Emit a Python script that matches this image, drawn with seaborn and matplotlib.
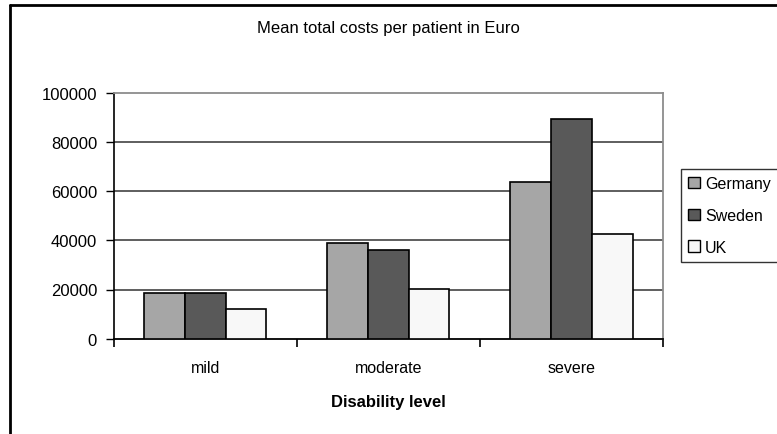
import matplotlib
matplotlib.use("Agg")
import matplotlib.pyplot as plt
import seaborn as sns
import pandas as pd
from matplotlib.lines import Line2D
from matplotlib.patches import Patch

categories = ["mild", "moderate", "severe"]
countries = ["Germany", "Sweden", "UK"]
germany = [18500, 38900, 63700]
sweden = [18500, 36200, 89400]
uk = [12000, 20300, 42700]
colors = ["#a6a6a6", "#595959", "#f8f8f8"]

rows = []
for c, vals in zip(countries, [germany, sweden, uk]):
    for cat, v in zip(categories, vals):
        rows.append({"level": cat, "country": c, "cost": v})
df = pd.DataFrame(rows)

sns.set_theme(style="white")
plt.rcParams["font.family"] = ["Liberation Sans", "DejaVu Sans"]
plt.rcParams["text.color"] = "black"
plt.rcParams["axes.labelcolor"] = "black"
plt.rcParams["xtick.color"] = "black"
plt.rcParams["ytick.color"] = "black"

W, H = 777, 435
fig = plt.figure(figsize=(W / 100, H / 100), dpi=100)
ax = fig.add_axes([113.7 / W, 1 - 339.7 / H, (663 - 113.7) / W, (339.7 - 93.7) / H])

sns.barplot(data=df, x="level", y="cost", hue="country", order=categories,
            hue_order=countries, palette=colors, width=0.667, gap=0,
            edgecolor="black", linewidth=1.2, saturation=1, ax=ax, legend=False,
            zorder=3)

ax.set_ylim(0, 100000)
ax.set_xlim(-0.5, 2.5)
ax.set_yticks([0, 20000, 40000, 60000, 80000, 100000])
ax.set_yticklabels(["0", "20000", "40000", "60000", "80000", "100000"], fontsize=12)
ax.set_xticks([0, 1, 2])
ax.set_xticklabels(categories, fontsize=11.5)
ax.set_xticks([-0.5, 0.5, 1.5, 2.5], minor=True)
ax.tick_params(axis="x", which="major", length=0, pad=15)
ax.tick_params(axis="x", which="minor", length=6, width=1.2, color="black", direction="out", bottom=True)
ax.tick_params(axis="y", which="major", length=6, width=1, color="black", direction="out", left=True, pad=6)
ax.set_xlabel("Disability level", fontsize=12, fontweight="bold", labelpad=14)
ax.set_ylabel("")

for y in [20000, 40000, 60000, 80000]:
    ax.axhline(y, color="#333333", linewidth=1.1, zorder=1)

for side in ["top", "right"]:
    ax.spines[side].set_visible(True)
    ax.spines[side].set_color("#8c8c8c")
    ax.spines[side].set_linewidth(1.3)
ax.spines["left"].set_color("black")
ax.spines["left"].set_linewidth(1.2)
ax.spines["bottom"].set_color("black")
ax.spines["bottom"].set_linewidth(1.3)

fig.text(388 / W, 1 - 28 / H, "Mean total costs per patient in Euro", ha="center", va="center",
         fontsize=12, color="black")

handles = [Patch(facecolor=c, edgecolor="black", linewidth=1) for c in colors]
leg = fig.legend(handles, countries, loc="upper left",
                 bbox_to_anchor=(681 / W, 1 - 170 / H), frameon=True, fancybox=False,
                 edgecolor="black", fontsize=11.5, handlelength=0.75, handleheight=0.75,
                 handletextpad=0.3, labelspacing=1.05, borderpad=0.45, borderaxespad=0)
leg.get_frame().set_linewidth(1)

# outer chart frame
fig.add_artist(Line2D([9.5 / W, 1.0], [1 - 6 / H, 1 - 6 / H], transform=fig.transFigure,
                      color="black", linewidth=2))
fig.add_artist(Line2D([9.5 / W, 9.5 / W], [0, 1 - 6 / H], transform=fig.transFigure,
                      color="black", linewidth=2))

fig.savefig("out.png", dpi=100)
